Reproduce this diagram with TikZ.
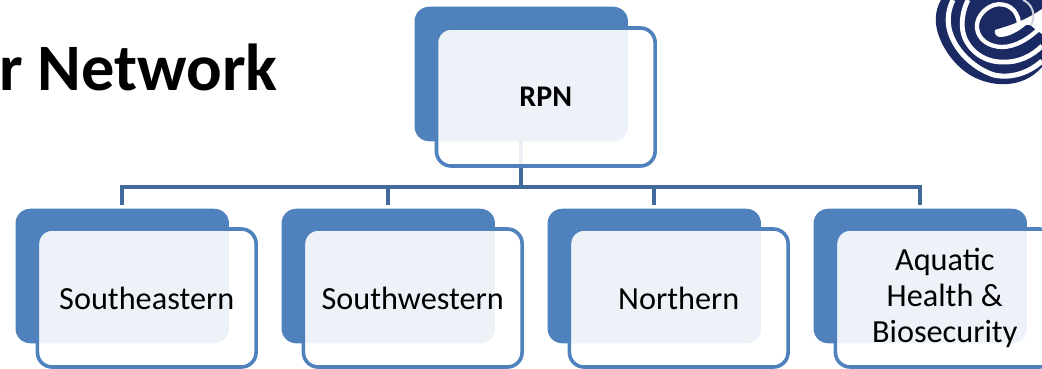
\documentclass[tikz,border=0pt]{standalone}
\usepackage{fontspec}
\setmainfont{Carlito}
\definecolor{backblue}{HTML}{4F81BD}
\definecolor{linkblue}{HTML}{41699A}
\definecolor{navy}{HTML}{1B2A63}
\tikzset{
  x=0.75pt,y=-0.75pt,
  backbox/.style={rectangle,rounded corners=11pt,fill=backblue,draw=none,minimum width=160.1pt,minimum height=100.9pt,inner sep=0pt,outer sep=0pt},
  frontbox/.style={rectangle,rounded corners=11pt,draw=backblue,line width=2.7pt,fill=white,fill opacity=.9,draw opacity=1,text opacity=1,minimum width=164pt,minimum height=103.5pt,inner sep=0pt,outer sep=0pt,align=center,font=\fontsize{24.2pt}{26.8pt}\selectfont},
  link/.style={draw=linkblue,line width=3pt},
  swirl/.style={draw=white,line cap=butt,fill=none}
}
\begin{document}
\begin{tikzpicture}
\useasboundingbox (0,0) rectangle (1042,368);
\node[anchor=base west,font=\bfseries\fontsize{49.8pt}{54pt}\selectfont,inner sep=0pt] (title) at (-1,90) {r Network};

% logo
\begin{scope}
\clip (0,0) rectangle (1042,368);
\fill[navy] (941,0) .. controls (937,7) and (935,15) .. (936,24) .. controls (938,42) and (952,64) .. (970,75) .. controls (990,87) and (1022,90) .. (1042,67) -- (1042,0) -- cycle;
% inner ring running into the teardrop
\draw[swirl,line width=3.2pt] (1019,24) .. controls (1018,8) and (1005,2) .. (994,5) .. controls (982,9) and (976,20) .. (977,28) .. controls (978,40) and (990,47) .. (1002,47) .. controls (1016,47) and (1030,38) .. (1042,26);
\fill[white] (995,30) .. controls (1003,27) and (1020,24) .. (1042,9) -- (1042,34) -- (1036,30) .. controls (1032,26) and (1030,24) .. (1026,25) .. controls (1018,32) and (1008,37) .. (1000,37) .. controls (996,37) and (994,33) .. (995,30) -- cycle;
\draw[swirl,line width=1.5pt,draw=white!80!navy] (1023,0) .. controls (1031,3) and (1037,14) .. (1031,25);
% middle ring
\draw[swirl,line width=3.6pt] (968,0) .. controls (963,10) and (960,24) .. (964,36) .. controls (970,52) and (985,62) .. (1002,62) .. controls (1018,63) and (1032,56) .. (1042,46);
% outer ring
\draw[swirl,line width=3.8pt] (953,0) .. controls (949,8) and (947,18) .. (949,28) .. controls (953,48) and (972,68) .. (994,75) .. controls (1012,79) and (1030,72) .. (1042,61);
\end{scope}

% boxes behind, then connectors
\node[backbox] (rpnback) at (521.25,74) {};
\node[backbox] (seback) at (122.25,276) {};
\node[backbox] (swback) at (388.25,276) {};
\node[backbox] (noback) at (654.25,276) {};
\node[backbox] (aqback) at (920.25,276) {};
\coordinate (busc) at (521.25,186.5);
\coordinate (sedrop) at (122.25,205);
\coordinate (swdrop) at (388.25,205);
\coordinate (nodrop) at (654.25,205);
\coordinate (aqdrop) at (920.25,205);
\draw[link] (rpnback.south) -- (busc);
\draw[link] (busc) -| (sedrop);
\draw[link] (busc) -| (swdrop);
\draw[link] (busc) -| (nodrop);
\draw[link] (busc) -| (aqdrop);

\node[frontbox] (rpn) at (545.8,97) {\textbf{\fontsize{22.5pt}{26pt}\selectfont RPN}};
\node[frontbox] (se) at (146.75,298) {Southeastern};
\node[frontbox] (sw) at (412.75,298) {Southwestern};
\node[frontbox] (no) at (678.75,298) {Northern};
\node[frontbox] (aq) at (944.75,298) {Aquatic\\Health \&\\Biosecurity};
\end{tikzpicture}
\end{document}
